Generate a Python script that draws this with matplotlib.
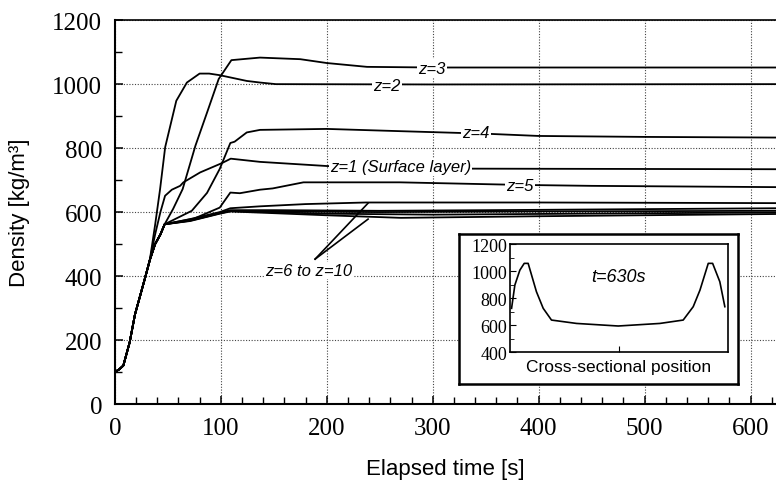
import numpy as np
import matplotlib
matplotlib.use("Agg")
import matplotlib.pyplot as plt
from matplotlib.ticker import MultipleLocator

# data (elapsed time [s], density [kg/m3])
base_t = [0, 4, 8, 14, 19, 24, 29, 33]
base_d = [100, 108, 120, 193, 280, 340, 400, 450]

z1_t = base_t + [38, 43, 47.4, 53.8, 61.6, 64.7, 80.5, 101, 109.4, 137, 200, 300, 624]
z1_d = base_d + [530, 600, 651, 670, 682, 693, 724, 753, 767, 757, 744, 736, 734]

z2_t = base_t + [38, 42.7, 47.5, 58, 68, 80, 89, 99, 124.5, 137, 152, 300, 624]
z2_d = base_d + [560, 672, 803, 948, 1005, 1033, 1033, 1028, 1010, 1005, 1000, 999, 1000]

z3_t = base_t + [38, 43, 47, 55, 64, 76, 87, 98, 110, 137, 175, 200, 238, 300, 624]
z3_d = base_d + [500, 530, 562, 610, 672, 807, 911, 1016, 1075, 1083, 1078, 1066, 1054, 1052, 1052]

z4_t = base_t + [38, 43, 47, 72.6, 87, 99, 109, 113, 124.5, 137, 200, 269, 350, 400, 500, 624]
z4_d = base_d + [500, 530, 562, 604, 660, 735, 816, 820, 849, 857, 860, 853, 845, 838, 835, 833]

z5_t = base_t + [38, 43, 47, 75, 99, 109, 118, 137, 149, 178, 269, 382, 450, 624]
z5_d = base_d + [500, 530, 562, 580, 614, 661, 659, 670, 674, 693, 693, 685, 682, 678]

z6_t = base_t + [38, 43, 47, 71, 99, 109, 137, 180, 237, 400, 624]
z6_d = base_d + [500, 530, 562, 578, 600, 612, 618, 625, 630, 630, 628]

z7_t = base_t + [38, 43, 47, 71, 99, 109, 150, 250, 400, 624]
z7_d = base_d + [500, 530, 562, 575, 598, 606, 606, 604, 607, 612]

z8_t = base_t + [38, 43, 47, 71, 99, 109, 150, 250, 400, 624]
z8_d = base_d + [500, 530, 562, 574, 597, 604, 602, 600, 602, 604]

z9_t = base_t + [38, 43, 47, 71, 99, 109, 200, 300, 624]
z9_d = base_d + [500, 530, 562, 573, 596, 603, 595, 592, 599]

z10_t = base_t + [38, 43, 47, 71, 99, 109, 200, 270, 400, 624]
z10_d = base_d + [500, 530, 562, 572, 595, 602, 590, 582, 587, 594]

series = [(z1_t, z1_d), (z2_t, z2_d), (z3_t, z3_d), (z4_t, z4_d), (z5_t, z5_d),
          (z6_t, z6_d), (z7_t, z7_d), (z8_t, z8_d), (z9_t, z9_d), (z10_t, z10_d)]

# inset: density profile across the section at t=630s
pos = [0.008, 0.023, 0.046, 0.066, 0.084, 0.122, 0.153, 0.191, 0.306, 0.497,
       0.688, 0.795, 0.841, 0.872, 0.910, 0.930, 0.963, 0.986]
prof = [724, 896, 1007, 1057, 1057, 847, 724, 637, 612, 593,
        612, 637, 736, 859, 1057, 1057, 921, 736]

serif = "Liberation Serif"
sans = "Liberation Sans"

fig = plt.figure(figsize=(7.76, 4.81), dpi=100)
ax = fig.add_axes([0.148, 0.158, 0.852, 0.798])

for t, d in series:
    ax.plot(t, d, color="black", lw=1.3, zorder=2)

ax.set_xlim(0, 624)
ax.set_ylim(0, 1200)
ax.xaxis.set_major_locator(MultipleLocator(100))
ax.xaxis.set_minor_locator(MultipleLocator(20))
ax.yaxis.set_major_locator(MultipleLocator(200))
ax.yaxis.set_minor_locator(MultipleLocator(100))
ax.tick_params(which="both", direction="in", top=False, right=False)
ax.tick_params(which="major", length=6, width=1.1, pad=9, labelsize=18)
ax.tick_params(which="minor", length=5, width=1.0)
for lab in ax.get_xticklabels() + ax.get_yticklabels():
    lab.set_fontfamily(serif)
ax.grid(True, which="major", linestyle=(0, (1, 1.5)), color="#444444", lw=0.8)
ax.spines["right"].set_visible(False)
ax.spines["left"].set_linewidth(1.5)
ax.spines["bottom"].set_linewidth(1.5)
ax.spines["top"].set_linewidth(1.2)

ax.set_xlabel("Elapsed time [s]", family=sans, fontsize=16, labelpad=14)
ax.set_ylabel("Density [kg/m³]", family=sans, fontsize=16, labelpad=16)

box = dict(facecolor="white", edgecolor="none", pad=1)
lab_kw = dict(family=sans, style="italic", fontsize=12, va="center", zorder=4, bbox=box)
ax.text(299, 1050, "z=3", ha="center", **lab_kw)
ax.text(257, 997, "z=2", ha="center", **lab_kw)
ax.text(341, 850, "z=4", ha="center", **lab_kw)
ax.text(203, 741, "z=1 (Surface layer)", ha="left", **lab_kw)
ax.text(382, 684, "z=5", ha="center", **lab_kw)
ax.text(142, 417, "z=6 to z=10", ha="left", **lab_kw)
ax.plot([189, 239], [453, 628], color="black", lw=1.2, zorder=3)
ax.plot([189, 239], [453, 578], color="black", lw=1.2, zorder=3)

# framed inset
frame = fig.add_axes([0.5915, 0.1996, 0.3595, 0.3118], zorder=5)
frame.set_xticks([])
frame.set_yticks([])
for s in frame.spines.values():
    s.set_linewidth(1.8)

ins = fig.add_axes([0.657, 0.266, 0.281, 0.2245], zorder=6)
ins.plot(pos, prof, color="black", lw=1.2)
ins.set_xlim(0, 1)
ins.set_ylim(400, 1200)
ins.set_xticks([0.5])
ins.set_xticklabels([])
ins.yaxis.set_major_locator(MultipleLocator(200))
ins.yaxis.set_minor_locator(MultipleLocator(100))
ins.tick_params(which="both", direction="in", top=False, right=False)
ins.tick_params(which="major", length=4, pad=2, labelsize=13)
ins.tick_params(which="minor", length=3)
for lab in ins.get_yticklabels():
    lab.set_fontfamily(serif)
for s in ins.spines.values():
    s.set_linewidth(1.2)
ins.text(0.5, 0.7, "t=630s", transform=ins.transAxes, ha="center", va="center",
         family=sans, style="italic", fontsize=13)
ins.set_xlabel("Cross-sectional position", family=sans, fontsize=12.5, labelpad=3)

fig.savefig("out.png", dpi=100)
